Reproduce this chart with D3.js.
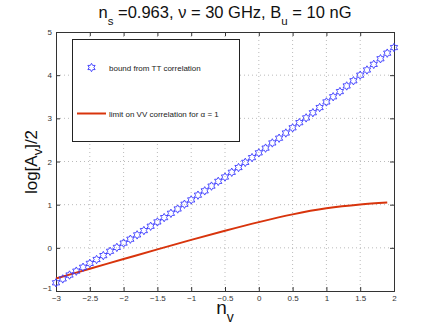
<!DOCTYPE html>
<html>
<head>
<meta charset="utf-8">
<script src="https://cdn.jsdelivr.net/npm/d3@7"></script>
<style>
  body { margin: 0; background: #fff; }
  svg { display: block; font-family: "Liberation Sans", Arial, sans-serif; }
</style>
</head>
<body>
<svg id="chart" width="436" height="327"></svg>
<script>
// data
const starX = d3.range(51).map(i => -3 + i * 0.1);
const starY = [
  -0.81, -0.72, -0.63, -0.54, -0.45, -0.36, -0.27, -0.18, -0.08, 0.01,
  0.11, 0.20, 0.30, 0.40, 0.50, 0.60, 0.70, 0.80, 0.90, 1.01,
  1.11, 1.22, 1.32, 1.43, 1.54, 1.64, 1.75, 1.86, 1.98, 2.09,
  2.20, 2.31, 2.43, 2.54, 2.66, 2.78, 2.90, 3.01, 3.13, 3.25,
  3.38, 3.50, 3.62, 3.75, 3.87, 4.00, 4.12, 4.25, 4.38, 4.51,
  4.64
];
const lineX = [-3, -2.5, -2, -1.5, -1, -0.5, 0, 0.5, 1, 1.5, 1.9];
const lineY = [-0.71, -0.485, -0.26, -0.035, 0.185, 0.395, 0.595, 0.775, 0.915, 1.005, 1.05];
const xTicks = [-3, -2.5, -2, -1.5, -1, -0.5, 0, 0.5, 1, 1.5, 2];
const yTicks = [-1, 0, 1, 2, 3, 4, 5];

const plotLeft = 56, plotRight = 394, plotTop = 32, plotBottom = 291;
const blue = "#3a3aff";
const red = "#d8340c";

const svg = d3.select("#chart");

const x = d3.scaleLinear().domain([-3, 2]).range([plotLeft, plotRight]);
const y = d3.scaleLinear().domain([-1, 5]).range([plotBottom, plotTop]);

//grid
const grid = svg.append("g")
  .attr("stroke", "#aaa")
  .attr("stroke-width", 0.8)
  .attr("stroke-dasharray", "1,3");
grid.selectAll(".gx").data(xTicks.slice(1, -1)).join("line")
  .attr("x1", d => x(d)).attr("x2", d => x(d))
  .attr("y1", plotTop).attr("y2", plotBottom);
grid.selectAll(".gy").data(yTicks.slice(1, -1)).join("line")
  .attr("y1", d => y(d)).attr("y2", d => y(d))
  .attr("x1", plotLeft).attr("x2", plotRight);

//axes
const xAxis = svg.append("g")
  .attr("transform", `translate(0,${plotBottom})`)
  .call(d3.axisBottom(x).tickValues(xTicks).tickSize(-4).tickPadding(4)
    .tickFormat(d => String(d).replace("-", "\u2212")));
const xAxisTop = svg.append("g")
  .attr("transform", `translate(0,${plotTop})`)
  .call(d3.axisTop(x).tickValues(xTicks).tickSize(-4).tickFormat(""));
const yAxis = svg.append("g")
  .attr("transform", `translate(${plotLeft},0)`)
  .call(d3.axisLeft(y).tickValues(yTicks).tickSize(-4).tickPadding(4)
    .tickFormat(d => String(d).replace("-", "\u2212")));
const yAxisRight = svg.append("g")
  .attr("transform", `translate(${plotRight},0)`)
  .call(d3.axisRight(y).tickValues(yTicks).tickSize(-4).tickFormat(""));

[xAxis, xAxisTop, yAxis, yAxisRight].forEach(a => {
  a.select(".domain").attr("stroke", "#333").attr("stroke-width", 1);
  a.selectAll(".tick line").attr("stroke", "#333");
  a.selectAll(".tick text").attr("fill", "#333").attr("font-size", 8)
    .attr("font-family", "Liberation Sans, Arial, sans-serif");
});
// matlab nudges the -1 label up
yAxis.selectAll(".tick text").filter(d => d === -1).attr("dy", "-0.1em");

//red line
const line = d3.line().x(d => x(d[0])).y(d => y(d[1])).curve(d3.curveMonotoneX);
svg.append("path")
  .datum(lineX.map((v, i) => [v, lineY[i]]))
  .attr("fill", "none")
  .attr("stroke", red)
  .attr("stroke-width", 2)
  .attr("d", line);

//hexagram marker
const hexagram = d3.lineRadial()
  .angle(d => d[0])
  .radius(d => d[1])
  .curve(d3.curveLinearClosed)(d3.range(12).map(i => [i * Math.PI / 6, i % 2 ? 2.4 : 4.2]));

svg.append("g").selectAll("path")
  .data(starX.map((v, i) => [v, starY[i]]))
  .join("path")
  .attr("transform", d => `translate(${x(d[0])},${y(d[1])})`)
  .attr("d", hexagram)
  .attr("fill", "none")
  .attr("stroke", blue)
  .attr("stroke-width", 0.9);

//legend
const leg = svg.append("g");
leg.append("rect")
  .attr("x", 72.5).attr("y", 39.5)
  .attr("width", 167).attr("height", 102)
  .attr("fill", "#fff").attr("stroke", "#222").attr("stroke-width", 1);
leg.append("path")
  .attr("transform", "translate(91.5,67.5)")
  .attr("d", hexagram)
  .attr("fill", "none").attr("stroke", blue).attr("stroke-width", 0.9);
leg.append("text")
  .attr("x", 109).attr("y", 70.5)
  .attr("font-size", 8).attr("fill", "#222")
  .text("bound from TT correlation");
leg.append("line")
  .attr("x1", 77).attr("x2", 106).attr("y1", 113.5).attr("y2", 113.5)
  .attr("stroke", red).attr("stroke-width", 2);
leg.append("text")
  .attr("x", 109).attr("y", 116.5)
  .attr("font-size", 8).attr("fill", "#222")
  .text("limit on VV correlation for \u03b1 = 1");

//title
const title = svg.append("text")
  .attr("x", (plotLeft + plotRight) / 2).attr("y", 18)
  .attr("text-anchor", "middle")
  .attr("font-size", 16.5).attr("fill", "#111");
title.append("tspan").text("n");
title.append("tspan").attr("dy", 7).attr("font-size", 11.5).text("s");
title.append("tspan").attr("dy", -7).text(" =0.963, \u03bd = 30 GHz, B");
title.append("tspan").attr("dy", 7).attr("font-size", 11.5).text("u");
title.append("tspan").attr("dy", -7).text(" = 10 nG");

//x label
const xl = svg.append("text")
  .attr("x", (plotLeft + plotRight) / 2).attr("y", 314)
  .attr("text-anchor", "middle")
  .attr("font-size", 19).attr("fill", "#111");
xl.append("tspan").text("n");
xl.append("tspan").attr("dy", 8).attr("font-size", 14).text("v");

//y label
const yl = svg.append("text")
  .attr("transform", "translate(37,162) rotate(-90)")
  .attr("text-anchor", "middle")
  .attr("font-size", 17).attr("fill", "#111");
yl.append("tspan").text("log[A");
yl.append("tspan").attr("dy", 5).attr("font-size", 13).text("v");
yl.append("tspan").attr("dy", -5).text("]/2");
</script>
</body>
</html>
